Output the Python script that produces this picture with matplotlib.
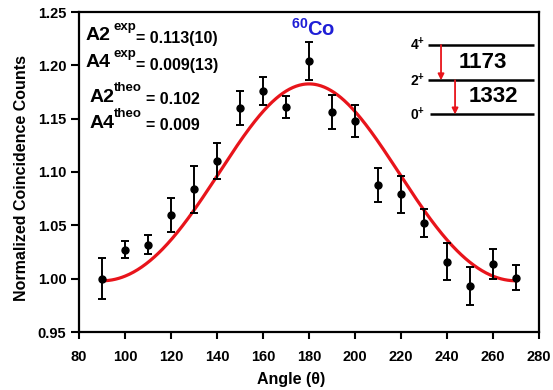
import numpy as np
import matplotlib
matplotlib.use("Agg")
import matplotlib.pyplot as plt

plt.rcParams['font.family'] = ['Liberation Sans', 'DejaVu Sans']
plt.rcParams['font.weight'] = 'bold'
plt.rcParams['mathtext.fontset'] = 'custom'
plt.rcParams['mathtext.rm'] = 'Liberation Sans:bold'
plt.rcParams['mathtext.bf'] = 'Liberation Sans:bold'
plt.rcParams['mathtext.it'] = 'Liberation Sans:bold'


#--------------------------------------------------------------------------------------------------
# Data.
#--------------------------------------------------------------------------------------------------
angles = [90, 100, 110, 120, 130, 140, 150, 160, 170, 180, 190, 200, 210, 220, 230, 240, 250, 260, 270]
counts = [1.000, 1.027, 1.032, 1.060, 1.084, 1.110, 1.160, 1.176, 1.161, 1.204,
          1.156, 1.148, 1.088, 1.079, 1.052, 1.016, 0.993, 1.014, 1.001]
errors = [0.019, 0.008, 0.009, 0.016, 0.022, 0.017, 0.016, 0.013, 0.010, 0.018,
          0.016, 0.015, 0.016, 0.017, 0.013, 0.017, 0.018, 0.014, 0.012]

# Fit coefficients, W = A0 (1 + A2 P2(cos) + A4 P4(cos)).
A0 = 1.054
A2 = 0.113
A4 = 0.009

xTicks = [80, 100, 120, 140, 160, 180, 200, 220, 240, 260, 280]
yTicks = [0.95, 1.00, 1.05, 1.10, 1.15, 1.20, 1.25]

# Level scheme.
levelSpins = ["4$^{+}$", "2$^{+}$", "0$^{+}$"]
levelY = [1.219, 1.186, 1.154]
gammaLabels = ["1173", "1332"]


#--------------------------------------------------------------------------------------------------
# Plot.
#--------------------------------------------------------------------------------------------------
W, H = 553, 390
fig = plt.figure(figsize=(W / 100, H / 100), dpi=100)
ax = fig.add_axes([79 / W, 1 - 332 / H, 460 / W, 320 / H])

thetaArray = np.linspace(90, 270, 500)
c = np.cos(np.radians(thetaArray))
P2 = (3 * c**2 - 1) / 2
P4 = (35 * c**4 - 30 * c**2 + 3) / 8
ax.plot(thetaArray, A0 * (1 + A2 * P2 + A4 * P4), color='#e8141b', lw=2.3, zorder=2)

ax.errorbar(angles, counts, yerr=errors, fmt='o', color='black', ms=5,
            elinewidth=1.4, capsize=3, capthick=1.4, zorder=3)

ax.set_xlim(80, 280)
ax.set_ylim(0.95, 1.25)
ax.set_xticks(xTicks)
ax.set_yticks(yTicks)
ax.set_yticklabels(["%.2f" % v for v in yTicks])
ax.tick_params(axis='x', direction='out', length=5, width=1.5, labelsize=10.5, pad=8)
ax.tick_params(axis='y', direction='out', length=6, width=1.5, labelsize=10.5, pad=3)
for s in ax.spines.values():
    s.set_linewidth(1.6)

ax.set_xlabel("Angle (\u03b8)", fontsize=11.5, fontweight='bold')
ax.xaxis.set_label_coords((291 - 79) / 460, -0.125)
ax.set_ylabel("Normalized Coincidence Counts", fontsize=11.5, fontweight='bold')
ax.yaxis.set_label_coords(-(79 - 29) / 460, (332 - 178) / 320)


# Coefficient annotations, placed in figure pixels.
def px(x, y):
    return x / W, 1 - y / H

rows = [(86, 40, 113, 30, "A2", "exp", 136, 43, "= 0.113(10)"),
        (86, 67, 113, 57, "A4", "exp", 136, 70, "= 0.009(13)"),
        (90, 102, 114, 91, "A2", "theo", 146, 104, "= 0.102"),
        (90, 128, 114, 117, "A4", "theo", 146, 130, "= 0.009")]
for xa, ya, xs, ys, lab, sup, xb, yb, val in rows:
    fig.text(*px(xa, ya), lab, fontsize=14, va='baseline', ha='left')
    fig.text(*px(xs, ys), sup, fontsize=9.5, va='baseline', ha='left')
    fig.text(*px(xb, yb), val, fontsize=11.5, va='baseline', ha='left')

fig.text(*px(291, 36), r"$^{60}$Co", fontsize=14.5, color='#1f1fd6', va='baseline', ha='left')

# Level scheme.
ax.hlines(levelY[0], 231.7, 277.8, color='black', lw=1.8)
ax.hlines(levelY[1], 231.7, 278.0, color='black', lw=1.8)
ax.hlines(levelY[2], 232.5, 278.0, color='black', lw=1.8)
for lab, y in zip(levelSpins, levelY):
    ax.text(230.5, y, lab, fontsize=10, ha='right', va='center')
ax.annotate("", xy=(237.4, levelY[1]), xytext=(237.4, levelY[0]),
            arrowprops=dict(arrowstyle='-|>', color='#e8141b', lw=1.3, mutation_scale=9,
                            shrinkA=0, shrinkB=0))
ax.annotate("", xy=(243.5, levelY[2]), xytext=(243.5, levelY[1]),
            arrowprops=dict(arrowstyle='-|>', color='#e8141b', lw=1.3, mutation_scale=9,
                            shrinkA=0, shrinkB=0))
ax.text(255.6, 1.203, gammaLabels[0], fontsize=16, ha='center', va='center')
ax.text(260.0, 1.171, gammaLabels[1], fontsize=16, ha='center', va='center')

plt.savefig("out.png", dpi=100)
